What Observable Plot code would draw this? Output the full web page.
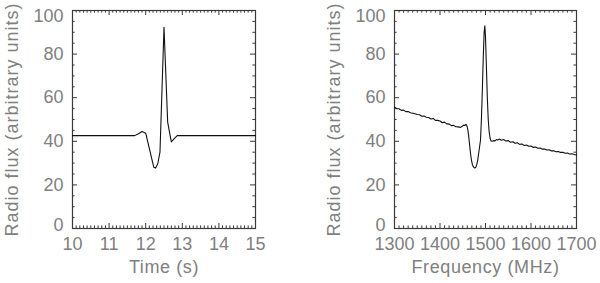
<!DOCTYPE html>
<html>
<head>
<meta charset="utf-8">
<script src="https://cdn.jsdelivr.net/npm/d3@7"></script>
<script src="https://cdn.jsdelivr.net/npm/@observablehq/plot@0.6"></script>
<style>
  html, body { margin: 0; padding: 0; background: white; }
  #wrap { display: flex; width: 600px; height: 283px; }
</style>
</head>
<body>
<div id="wrap"></div>
<script>
// ---- Data ----
const timeS = [10, 11.7, 11.8, 11.9, 12.0, 12.22, 12.27, 12.33, 12.39, 12.5, 12.6, 12.7, 12.8, 12.86, 15];
const timeFlux = [42.6, 42.6, 43.5, 44.5, 43.7, 28.1, 27.7, 29.7, 35.0, 92.3, 48.8, 39.7, 41.6, 42.6, 42.6];

const freqMHz = [
  1300,1305,1310,1315,1320,1325,1330,1335,1340,1345,1350,1355,1360,1365,1370,1375,1380,1385,1390,1395,
  1400,1405,1410,1415,1420,1425,1430,1435,1440,1445,1449,1452,1455,1457,1459,1461,1463,1465,1467,1469,
  1471,1473,1475,1477,1479,1481,1483,1485,1487,1489,1491,1493,1495,1497,1498.5,1500,1502,1504,1506,1508,
  1510,1512,1515,1518,1521,1524,1527,1530,1535,1540,1545,1550,1555,1560,1565,1570,1575,1580,1585,1590,
  1595,1600,1605,1610,1615,1620,1625,1630,1635,1640,1645,1650,1655,1660,1665,1670,1675,1680,1685,1690,
  1695,1700
];
const freqFlux = [
  55.6,55.0,54.9,54.2,54.3,53.6,53.7,53.1,52.9,52.6,52.3,52.2,51.5,51.6,51.0,50.9,50.2,50.5,49.6,49.6,
  49.3,48.5,48.8,48.0,47.9,47.2,47.3,46.7,46.6,46.4,46.9,47.4,47.3,47.8,47.2,45.5,42.5,38.5,34.5,31.5,
  29.5,28.4,27.9,27.8,28.2,29.5,31.5,34.5,37.5,40.5,50.0,63.0,78.0,90.0,93.0,88.0,74.0,60.0,50.0,44.5,
  41.5,40.2,40.0,40.3,40.2,40.8,40.6,41.0,40.5,40.8,40.1,40.3,39.6,39.8,39.1,39.3,38.6,38.8,38.1,38.3,
  37.7,37.8,37.2,37.4,36.8,36.9,36.4,36.5,36.0,36.1,35.6,35.7,35.2,35.3,34.9,35.0,34.5,34.6,34.2,34.3,
  33.9,33.8
];

const timeTicks = [10, 11, 12, 13, 14, 15];
const freqTicks = [1300, 1400, 1500, 1600, 1700];
const fluxTicks = [0, 20, 40, 60, 80, 100];
const yLabel = "Radio flux (arbitrary units)";
const xLabels = ["Time (s)", "Frequency (MHz)"];

// ---- Styling ----
const textColor = "#808080";
const axisColor = "#3a3a3a";
const font = "Liberation Sans, Arial, sans-serif";
const W = 300, H = 283, MT = 10, MB = 55;
const yDomain = [0, 100];

function panel({xs, ys, xDomain, xTicks, xMinorStep, xLabel, ml, mr}) {
  const pw = W - ml - mr, ph = H - MT - MB;
  const xpp = (xDomain[1] - xDomain[0]) / pw;  // data units per pixel
  const ypp = (yDomain[1] - yDomain[0]) / ph;
  const majLen = 5, minLen = 2.6;
  const xMinor = d3.range(xDomain[0], xDomain[1] + xMinorStep / 2, xMinorStep);
  const yMinor = d3.range(yDomain[0], yDomain[1] + 0.1, 5);
  const isMajX = v => xTicks.some(t => Math.abs(t - v) < xMinorStep / 10);
  const isMajY = v => fluxTicks.some(t => Math.abs(t - v) < 0.5);
  const xLen = v => (isMajX(v) ? majLen : minLen);
  const yLen = v => (isMajY(v) ? majLen : minLen);
  const pts = xs.map((x, i) => ({x, y: ys[i]}));
  const svg = Plot.plot({
    width: W, height: H,
    marginLeft: ml, marginRight: mr, marginTop: MT, marginBottom: MB,
    x: {domain: xDomain, axis: null},
    y: {domain: yDomain, axis: null},
    style: {fontFamily: font, fontSize: "18px", background: "white", overflow: "visible"},
    marks: [
      // bottom & top x ticks (inward)
      Plot.ruleX(xMinor, {x: d => d, y1: yDomain[0], y2: d => yDomain[0] + xLen(d) * ypp, stroke: axisColor, strokeWidth: 1}),
      Plot.ruleX(xMinor, {x: d => d, y1: yDomain[1], y2: d => yDomain[1] - xLen(d) * ypp, stroke: axisColor, strokeWidth: 1}),
      // left & right y ticks (inward)
      Plot.ruleY(yMinor, {y: d => d, x1: xDomain[0], x2: d => xDomain[0] + yLen(d) * xpp, stroke: axisColor, strokeWidth: 1}),
      Plot.ruleY(yMinor, {y: d => d, x1: xDomain[1], x2: d => xDomain[1] - yLen(d) * xpp, stroke: axisColor, strokeWidth: 1}),
      Plot.frame({stroke: axisColor, strokeWidth: 1.2}),
      Plot.line(pts, {x: "x", y: "y", stroke: "#111", strokeWidth: 1.1}),
      // x tick labels
      Plot.text(xTicks, {x: d => d, frameAnchor: "bottom", dy: 21, text: d => String(d), fill: textColor, fontSize: 18}),
      // y tick labels
      Plot.text(fluxTicks.filter(v => v > 0 && v < 100), {y: d => d, frameAnchor: "left", dx: -9, textAnchor: "end", text: d => String(d), fill: textColor, fontSize: 18}),
      Plot.text(fluxTicks.filter(v => v === 100), {y: d => d, frameAnchor: "left", dx: -9, dy: 6, textAnchor: "end", text: d => String(d), fill: textColor, fontSize: 18}),
      Plot.text(fluxTicks.filter(v => v === 0), {y: d => d, frameAnchor: "left", dx: -9, dy: -3, textAnchor: "end", text: d => String(d), fill: textColor, fontSize: 18}),
      // axis titles
      Plot.text([xLabel], {frameAnchor: "bottom", dy: 44, textAnchor: "middle", text: d => d, fill: textColor, fontSize: 18}),
      Plot.text([yLabel], {frameAnchor: "left", dx: -60, rotate: -90, textAnchor: "middle", text: d => d, fill: textColor, fontSize: 18})
    ]
  });
  // wider letter spacing on the axis titles, as in the reference's stroke font
  d3.select(svg).selectAll("text").filter(function () { return this.textContent === yLabel; })
    .style("letter-spacing", "1px");
  d3.select(svg).selectAll("text").filter(function () { return this.textContent === xLabel; })
    .style("letter-spacing", "0.6px");
  return svg;
}

const wrap = document.getElementById("wrap");
wrap.append(panel({xs: timeS, ys: timeFlux, xDomain: [10, 15], xTicks: timeTicks, xMinorStep: 0.1, xLabel: xLabels[0], ml: 72, mr: 45}));
wrap.append(panel({xs: freqMHz, ys: freqFlux, xDomain: [1300, 1700], xTicks: freqTicks, xMinorStep: 10, xLabel: xLabels[1], ml: 94, mr: 24}));
</script>
</body>
</html>
